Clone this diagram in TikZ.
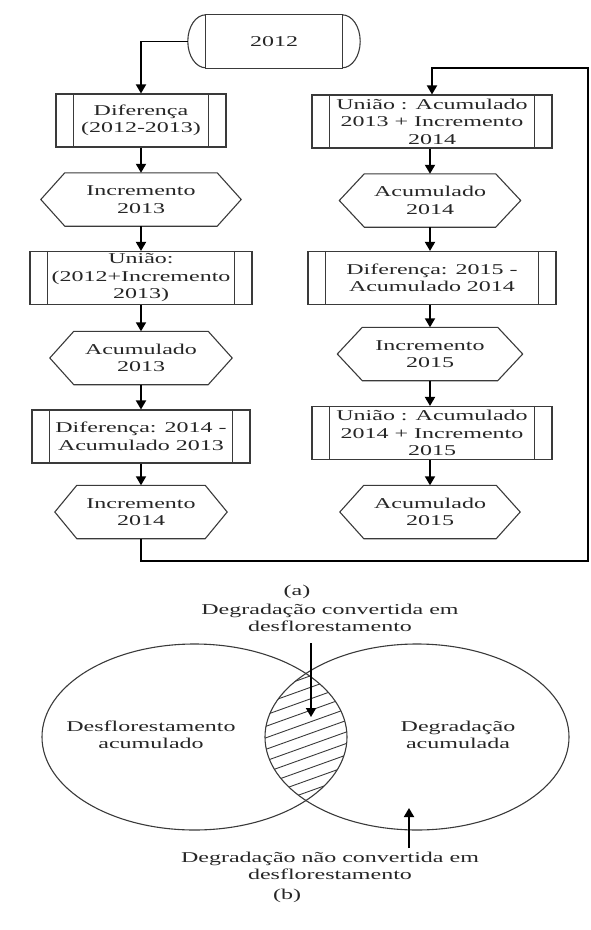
\documentclass[tikz,border=0pt]{standalone}
\usepackage{fontspec}
\setmainfont{Liberation Serif}[FakeStretch=1.6]
\usetikzlibrary{arrows.meta}
\definecolor{lc}{HTML}{3A3A3A}
\definecolor{tc}{HTML}{262626}
\tikzset{
  txt/.style={text=tc, font=\fontsize{15}{17.5}\selectfont, align=center, inner sep=0pt},
  procbox/.style={txt, draw=lc, line width=1.1pt, minimum height=53pt},
  hexbox/.style={txt, minimum height=53pt},
  flow/.style={line width=1.8pt, draw=black, -{Triangle[length=9pt,width=10pt]}},
  outl/.style={draw=lc, line width=1.1pt},
}
\newcommand{\mybars}[1]{%
  \draw[outl] ([xshift=18pt]#1.north west) -- ([xshift=18pt]#1.south west);
  \draw[outl] ([xshift=-18pt]#1.north east) -- ([xshift=-18pt]#1.south east);}
\newcommand{\myhex}[2]{%
  \draw[outl] ([xshift=-#2pt]#1.west) -- (#1.north west) -- (#1.north east) --
    ([xshift=#2pt]#1.east) -- (#1.south east) -- (#1.south west) -- cycle;}
\begin{document}
\begin{tikzpicture}[x=1pt,y=-1pt]
\useasboundingbox (0,0) rectangle (590,930);

% terminator
\node[txt, minimum width=136pt, minimum height=53pt] (t2012) at (274,41.5) {2012};
\draw[outl] (t2012.north west) rectangle (t2012.south east);
\draw[outl] (t2012.north west) arc[start angle=90, end angle=270, x radius=18pt, y radius=26.5pt];
\draw[outl] (t2012.north east) arc[start angle=90, end angle=-90, x radius=18pt, y radius=26.5pt];

% left column
\node[procbox, minimum width=170pt] (dif13) at (141,120.5) {Diferença\\(2012-2013)};
\mybars{dif13}
\node[hexbox, minimum width=152pt] (inc13) at (141,199.5) {Incremento\\2013};
\myhex{inc13}{24}
\node[procbox, minimum width=222pt] (un13) at (141,278) {União:\\(2012+Incremento\\2013)};
\mybars{un13}
\node[hexbox, minimum width=134pt] (ac13) at (141,358) {Acumulado\\2013};
\myhex{ac13}{24}
\node[procbox, minimum width=218pt] (dif14) at (141,436.5) {Diferença: 2014 -\\Acumulado 2013};
\mybars{dif14}
\node[hexbox, minimum width=128pt] (inc14) at (141,512) {Incremento\\2014};
\myhex{inc14}{22}

% right column
\node[procbox, minimum width=240pt] (un14) at (432,121.5) {União : Acumulado\\2013 + Incremento\\2014};
\mybars{un14}
\node[hexbox, minimum width=131pt] (ac14) at (430,200.5) {Acumulado\\2014};
\myhex{ac14}{25}
\node[procbox, minimum width=248pt] (dif15) at (432,278) {Diferença: 2015 -\\Acumulado 2014};
\mybars{dif15}
\node[hexbox, minimum width=135pt] (inc15) at (430,354) {Incremento\\2015};
\myhex{inc15}{25}
\node[procbox, minimum width=240pt] (un15) at (432,433) {União : Acumulado\\2014 + Incremento\\2015};
\mybars{un15}
\node[hexbox, minimum width=132pt] (ac15) at (430,512) {Acumulado\\2015};
\myhex{ac15}{24}

% connectors
\draw[flow] ([xshift=-18pt]t2012.west) -| (dif13.north);
\draw[flow] (dif13) -- (inc13);
\draw[flow] (inc13) -- (un13);
\draw[flow] (un13) -- (ac13);
\draw[flow] (ac13) -- (dif14);
\draw[flow] (dif14) -- (inc14);
\coordinate (lpA) at (588,561);
\coordinate (lpB) at (588,68);
\draw[flow] (inc14.south) |- (lpA) -- (lpB) -| (un14.north);
\draw[flow] (un14.south -| ac14.north) -- (ac14.north);
\draw[flow] (ac14.south) -- (ac14.south |- dif15.north);
\draw[flow] (dif15.south -| inc15.north) -- (inc15.north);
\draw[flow] (inc15.south) -- (inc15.south |- un15.north);
\draw[flow] (un15.south -| ac15.north) -- (ac15.north);

\node[txt] (capa) at (297,592) {(a)};

% Venn
\coordinate (cL) at (194.5,737);
\coordinate (cR) at (417,737);
\begin{scope}
  \clip (cL) ellipse [x radius=152.5pt, y radius=93pt];
  \clip (cR) ellipse [x radius=152pt, y radius=93pt];
  \foreach \k in {640,651.5,...,850} {
    \draw[lc, line width=0.9pt] (250,\k) -- (370,\k-43);
  }
\end{scope}
\draw[outl] (cL) ellipse [x radius=152.5pt, y radius=93pt];
\draw[outl] (cR) ellipse [x radius=152pt, y radius=93pt];

\node[txt] (lblL) at (151,735) {Desflorestamento\\acumulado};
\node[txt] (lblR) at (458,735) {Degradação\\acumulada};
\node[txt] (lblTop) at (330,618) {Degradação convertida em\\desflorestamento};
\node[txt] (lblBot) at (330,866) {Degradação não convertida em\\desflorestamento};
\node[txt] (capb) at (287,896) {(b)};

\coordinate (vaA) at (311,643);
\coordinate (vaB) at (311,717);
\draw[flow] (vaA) -- (vaB);
\coordinate (vbA) at (409,848);
\coordinate (vbB) at (409,808);
\draw[flow] (vbA) -- (vbB);
\end{tikzpicture}
\end{document}
